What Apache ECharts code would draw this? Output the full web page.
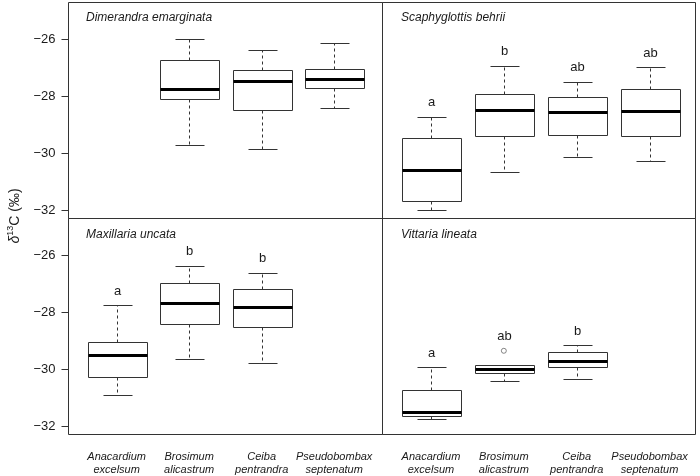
<!DOCTYPE html>
<html><head><meta charset="utf-8">
<script src="https://cdn.jsdelivr.net/npm/echarts@6/dist/echarts.min.js"></script>
<style>html,body{margin:0;padding:0;background:#fff}#c{width:700px;height:476px}</style>
</head><body><div id="c"></div>
<script>
// ---- data ----
const hosts = ['Anacardium excelsum', 'Brosimum alicastrum', 'Ceiba pentrandra', 'Pseudobombax septenatum'];
const panelTitles = ['Dimerandra emarginata', 'Scaphyglottis behrii', 'Maxillaria uncata', 'Vittaria lineata'];
const yTicks = [-32, -30, -28, -26];
// each box: [min, Q1, median, Q3, max] per host (null = no data)
const dimerandra = [null, [-29.72, -28.08, -27.76, -26.73, -26.00], [-29.86, -28.49, -27.47, -27.09, -26.38], [-28.40, -27.70, -27.40, -27.04, -26.12]];
const scaphyglottis = [[-31.97, -31.66, -30.57, -29.46, -28.71], [-30.65, -29.38, -28.49, -27.92, -26.93], [-30.12, -29.35, -28.55, -28.04, -27.49], [-30.25, -29.38, -28.52, -27.76, -26.99]];
const maxillaria = [[-30.88, -30.28, -29.48, -29.03, -27.75], [-29.64, -28.40, -27.68, -26.98, -26.37], [-29.76, -28.53, -27.83, -27.20, -26.61], null];
const vittaria = [[-31.75, -31.62, -31.50, -30.73, -29.92], [-30.41, -30.14, -30.00, -29.83, -29.83], [-30.33, -29.92, -29.69, -29.38, -29.16], null];
// outliers: [host position (1-4), value]
const dimerandraOut = [];
const scaphyglottisOut = [];
const maxillariaOut = [];
const vittariaOut = [[2, -29.35]];
// significance letters
const dimerandraLetters = ['', '', '', ''];
const scaphyglottisLetters = ['a', 'b', 'ab', 'ab'];
const maxillariaLetters = ['a', 'b', 'b', ''];
const vittariaLetters = ['a', 'ab', 'b', ''];

const panels = [
  { boxes: dimerandra, out: dimerandraOut, letters: dimerandraLetters },
  { boxes: scaphyglottis, out: scaphyglottisOut, letters: scaphyglottisLetters },
  { boxes: maxillaria, out: maxillariaOut, letters: maxillariaLetters },
  { boxes: vittaria, out: vittariaOut, letters: vittariaLetters }
];

// ---- layout ----
const FONT = "'Liberation Sans', Arial, sans-serif";
const TXT = '#1a1a1a';
const LINE = '#333';
const grids = [
  { left: 68.5, top: 2.5, width: 314, height: 216 },
  { left: 382.5, top: 2.5, width: 313, height: 216 },
  { left: 68.5, top: 218.5, width: 314, height: 216 },
  { left: 382.5, top: 218.5, width: 313, height: 216 }
];
const xRanges = [[0.336, 4.667], [0.335, 4.63], [0.336, 4.667], [0.335, 4.63]];
const titlePos = [[86, 12], [401, 12], [86, 229], [401, 229]];

const minus = v => (v < 0 ? '\u2212' : '') + Math.abs(v);
const px = v => Math.round(v) + 0.5;

function makeRender(letters) {
  return function (params, api) {
    const x = api.value(0);
    const lo = api.value(1), q1 = api.value(2), md = api.value(3), q3 = api.value(4), hi = api.value(5), top = api.value(6);
    const cx = px(api.coord([x, md])[0]);
    const halfW = api.size([0.4, 0])[0];
    const capW = api.size([0.2, 0])[0];
    const y = v => px(api.coord([x, v])[1]);
    const yLo = y(lo), yQ1 = y(q1), yMd = y(md), yQ3 = y(q3), yHi = y(hi), yTop = api.coord([x, top])[1];
    const left = px(cx - halfW), right = px(cx + halfW);
    const dashed = { stroke: LINE, lineWidth: 1, lineDash: [3, 3], fill: null };
    const solid = { stroke: LINE, lineWidth: 1, fill: null };
    const children = [
      { type: 'line', shape: { x1: cx, y1: yQ3, x2: cx, y2: yHi }, style: dashed },
      { type: 'line', shape: { x1: cx, y1: yQ1, x2: cx, y2: yLo }, style: dashed },
      { type: 'line', shape: { x1: px(cx - capW), y1: yHi, x2: px(cx + capW), y2: yHi }, style: solid },
      { type: 'line', shape: { x1: px(cx - capW), y1: yLo, x2: px(cx + capW), y2: yLo }, style: solid },
      { type: 'rect', shape: { x: left, y: yQ3, width: right - left, height: yQ1 - yQ3 }, style: { fill: '#fff', stroke: LINE, lineWidth: 1 } },
      { type: 'line', shape: { x1: left, y1: yMd, x2: right, y2: yMd }, style: { stroke: '#000', lineWidth: 3 } }
    ];
    const letter = letters[Math.round(x) - 1];
    if (letter) {
      children.push({ type: 'text', x: cx, y: yTop - 14, style: { text: letter, align: 'center', verticalAlign: 'middle', fill: TXT, font: '13px ' + FONT } });
    }
    return { type: 'group', children };
  };
}

const option = {
  animation: false,
  backgroundColor: '#fff',
  title: panelTitles.map((t, i) => ({
    text: t, left: titlePos[i][0], top: titlePos[i][1], padding: 0,
    textStyle: { fontSize: 12, fontStyle: 'italic', fontWeight: 'normal', color: TXT, fontFamily: FONT }
  })),
  grid: grids.map(g => Object.assign({ show: true, borderColor: LINE, borderWidth: 1, backgroundColor: 'transparent', containLabel: false, outerBoundsMode: 'none' }, g)),
  xAxis: grids.map((g, i) => ({
    type: 'value', gridIndex: i, min: xRanges[i][0], max: xRanges[i][1],
    axisLine: { show: false }, axisTick: { show: false }, splitLine: { show: false },
    axisLabel: {
      show: i >= 2, customValues: [1, 2, 3, 4], hideOverlap: false, showMinLabel: true, showMaxLabel: true,
      formatter: v => hosts[Math.round(v) - 1].replace(' ', '\n'),
      fontSize: 11, fontStyle: 'italic', lineHeight: 13, margin: 16, color: TXT, fontFamily: FONT
    }
  })),
  yAxis: grids.map((g, i) => ({
    type: 'value', gridIndex: i, min: -32.28, max: -24.72,
    axisLine: { show: false }, splitLine: { show: false },
    axisTick: { show: i % 2 === 0, customValues: yTicks, length: 7, lineStyle: { color: LINE } },
    axisLabel: { show: i % 2 === 0, customValues: yTicks, formatter: minus, fontSize: 13, margin: 13, color: TXT, fontFamily: FONT }
  })),
  graphic: [{
    type: 'text', x: 15, y: 216, rotation: Math.PI / 2,
    style: {
      text: '{i|\u03b4}{s|13}{n|C (\u2030)}', align: 'center', verticalAlign: 'middle',
      rich: {
        i: { fontSize: 14, fontStyle: 'italic', fontFamily: FONT, fill: TXT, lineHeight: 18 },
        s: { fontSize: 9, fontFamily: FONT, fill: TXT, lineHeight: 11, verticalAlign: 'top' },
        n: { fontSize: 14, fontFamily: FONT, fill: TXT, lineHeight: 18 }
      }
    }
  }],
  series: []
};

panels.forEach((p, i) => {
  const data = [];
  p.boxes.forEach((b, k) => {
    if (!b) return;
    const pos = k + 1;
    let top = b[4];
    p.out.forEach(o => { if (o[0] === pos && o[1] > top) top = o[1]; });
    data.push([pos, b[0], b[1], b[2], b[3], b[4], top]);
  });
  option.series.push({
    type: 'custom', xAxisIndex: i, yAxisIndex: i, renderItem: makeRender(p.letters),
    encode: { x: 0, y: [1, 2, 3, 4, 5] }, data, clip: false, silent: true, z: 2
  });
  if (p.out.length) {
    option.series.push({
      type: 'scatter', xAxisIndex: i, yAxisIndex: i, data: p.out, symbol: 'circle', symbolSize: 5,
      itemStyle: { color: '#fff', borderColor: '#444', borderWidth: 0.8 }, silent: true, z: 5
    });
  }
});

const chart = echarts.init(document.getElementById('c'), null, { renderer: 'canvas' });
chart.setOption(option);
</script>
</body></html>
